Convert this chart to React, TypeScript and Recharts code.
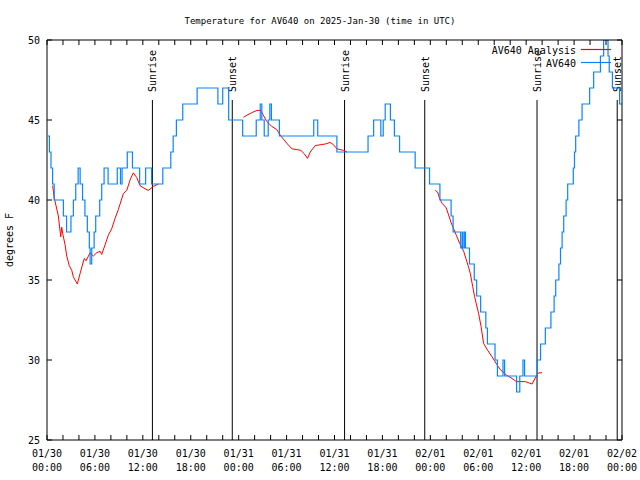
import { LineChart, Line, XAxis, YAxis, ReferenceLine } from "recharts"

const FONT = "'DejaVu Sans Mono', monospace"

// AV640 observations: hour since 01/30 00:00 UTC, temp (deg F), drawn as steps
const obsHours = [
  0.1, 0.3, 0.5, 0.7, 0.9, 2.05, 2.45, 3.0, 3.3, 3.6,
  3.9, 4.15, 4.45, 4.75, 5.05, 5.3, 5.4, 5.6, 5.9, 6.1,
  6.6, 6.85, 7.15, 7.65, 8.8, 9.2, 9.4, 10.05, 10.7, 11.6,
  12.35, 13.1, 14.5, 15.5, 15.8, 16.2, 17.0, 18.8, 21.4, 22.0,
  22.75, 24.5, 26.2, 26.7, 26.9, 27.2, 27.7, 27.9, 28.1, 29.1,
  33.4, 33.9, 36.3, 40.2, 40.9, 41.8, 42.1, 42.35, 43.0, 43.5,
  44.15, 46.1, 47.9, 49.2, 50.6, 50.85, 51.8, 52.0, 52.1, 52.3,
  52.4, 52.9, 53.5, 53.8, 54.3, 54.95, 55.15, 56.1, 56.4, 57.1,
  57.3, 58.8, 59.2, 59.6, 59.8, 61.4, 61.8, 62.4, 63.1, 63.5,
  63.7, 64.1, 64.3, 64.5, 64.7, 65.0, 65.2, 65.9, 66.05, 66.2,
  66.6, 67.0, 67.95, 68.45, 69.3, 69.7, 70.25, 70.4, 70.8, 71.7,
  72.0,
]
const obsTemps = [
  44, 43, 42, 41, 40, 39, 38, 39, 40, 41,
  42, 41, 40, 39, 38, 37, 36, 37, 38, 39,
  40, 41, 42, 41, 42, 41, 42, 43, 42, 41,
  42, 41, 42, 43, 44, 45, 46, 47, 46, 47,
  45, 44, 45, 46, 45, 44, 45, 46, 45, 44,
  45, 44, 43, 44, 45, 44, 45, 46, 45, 44,
  43, 42, 41, 40, 39, 38, 37, 38, 37, 38,
  37, 36, 35, 34, 33, 32, 31, 30, 29, 30,
  29, 28, 29, 30, 29, 30, 31, 32, 33, 34,
  35, 36, 37, 38, 39, 40, 41, 42, 43, 44,
  45, 46, 47, 48, 49, 50, 49, 48, 47, 46,
  46,
]

// AV640 Analysis, three separate stretches [hour, temp]
const anaDay1 = [
  [0.71, 40.9], [0.88, 40.2], [1.42, 39.0], [1.72, 37.7], [1.84, 38.3], [1.97, 37.9],
  [2.26, 37.2], [2.47, 36.5], [2.79, 35.9], [3.1, 35.6], [3.3, 35.2], [3.8, 34.75],
  [4.14, 35.4], [4.47, 36.0], [4.67, 36.35], [4.89, 36.2], [5.39, 36.7], [5.8, 36.5],
  [6.23, 36.7], [6.64, 36.8], [6.85, 36.6], [7.27, 37.2], [7.68, 37.8], [8.1, 38.2],
  [8.52, 38.85], [8.93, 39.4], [9.56, 40.4], [9.99, 40.6], [10.4, 41.25], [10.81, 41.7],
  [11.24, 41.4], [11.65, 40.9], [12.28, 40.7], [12.69, 40.6], [13.32, 40.85], [13.95, 41.0],
]
const anaDay2 = [
  [24.6, 45.17], [25.03, 45.3], [25.65, 45.46], [26.28, 45.6], [26.78, 45.6], [27.03, 45.35],
  [27.53, 44.9], [28.16, 44.6], [28.78, 44.4], [29.2, 44.06], [29.61, 43.8], [30.11, 43.5],
  [30.66, 43.2], [31.29, 43.15], [31.79, 43.1], [32.2, 42.9], [32.62, 42.6], [32.96, 43.0],
  [33.58, 43.4], [34.21, 43.45], [34.84, 43.5], [35.46, 43.6], [35.88, 43.45], [36.3, 43.2],
  [37.13, 43.1], [37.56, 43.0],
]
const anaDay3 = [
  [48.62, 40.6], [48.91, 40.5], [49.16, 40.1], [49.46, 39.8], [50.0, 39.5], [50.29, 39.06],
  [50.59, 38.6], [50.92, 38.2], [51.25, 37.8], [51.67, 37.3], [52.17, 36.8], [52.51, 36.25],
  [52.79, 35.8], [53.01, 35.4], [53.3, 34.6], [53.55, 33.95], [53.76, 33.5], [54.05, 32.9],
  [54.35, 32.1], [54.67, 31.04], [55.18, 30.6], [55.73, 30.2], [56.35, 29.7], [56.77, 29.4],
  [57.52, 29.06], [58.23, 28.85], [58.77, 28.65], [59.9, 28.65], [60.74, 28.5], [61.28, 29.0],
  [61.57, 29.2], [61.99, 29.2],
]

const sunHours = [13.2, 23.2, 37.26, 47.3, 61.36, 71.4]
const sunLabels = ["Sunrise", "Sunset", "Sunrise", "Sunset", "Sunrise", "Sunset"]

const xLabelHours = [0, 6, 12, 18, 24, 30, 36, 42, 48, 54, 60, 66, 72]
const xDateLabels = ["01/30", "01/30", "01/30", "01/30", "01/31", "01/31", "01/31", "01/31", "02/01", "02/01", "02/01", "02/01", "02/02"]
const xTimeLabels = ["00:00", "06:00", "12:00", "18:00", "00:00", "06:00", "12:00", "18:00", "00:00", "06:00", "12:00", "18:00", "00:00"]
const xTickHours = Array.from({ length: 37 }, (_, i) => i * 2)
const yTicks = [25, 30, 35, 40, 45, 50]

const seriesNames = ["AV640 Analysis", "AV640"]
const seriesColors = ["#ff0000", "#0a84ff"]

const obsData = obsHours.map((h, i) => ({ h, v: obsTemps[i] }))
const toPts = (seg: number[][]) => seg.map(([h, v]) => ({ h, v }))
const anaData = [
  ...toPts(anaDay1),
  { h: 19, v: null },
  ...toPts(anaDay2),
  { h: 43, v: null },
  ...toPts(anaDay3),
]

function BottomTick(props: any) {
  const { x, y, payload } = props
  const i = xLabelHours.indexOf(payload.value)
  return (
    <g>
      <line x1={x} x2={x} y1={y} y2={y - 5} stroke="#000" />
      {i >= 0 && (
        <text x={x} y={y} textAnchor="middle" fontFamily={FONT} fontSize={10} fill="#000">
          <tspan x={x} dy={17}>{xDateLabels[i]}</tspan>
          <tspan x={x} dy={14}>{xTimeLabels[i]}</tspan>
        </text>
      )}
    </g>
  )
}

function TopTick(props: any) {
  const { x, y } = props
  return <line x1={x} x2={x} y1={y} y2={y + 5} stroke="#000" />
}

function LeftTick(props: any) {
  const { x, y, payload } = props
  return (
    <g>
      <line x1={x} x2={x + 5} y1={y} y2={y} stroke="#000" />
      <text x={x - 7} y={y + 4} textAnchor="end" fontFamily={FONT} fontSize={10} fill="#000">
        {payload.value}
      </text>
    </g>
  )
}

function RightTick(props: any) {
  const { x, y } = props
  return <line x1={x} x2={x - 5} y1={y} y2={y} stroke="#000" />
}

function SunLabel(text: string) {
  return (props: any) => {
    const vb = props.viewBox
    const tx = vb.x + 4
    const ty = vb.y - 8
    return (
      <text
        x={tx}
        y={ty}
        transform={`rotate(-90 ${tx} ${ty})`}
        fontFamily={FONT}
        fontSize={10}
        fill="#000"
      >
        {text}
      </text>
    )
  }
}

function YLabel(props: any) {
  const vb = props.viewBox
  const cx = 13
  const cy = vb.y + vb.height / 2
  return (
    <text x={cx} y={cy} transform={`rotate(-90 ${cx} ${cy})`} textAnchor="middle" fontFamily={FONT} fontSize={10} fill="#000">
      degrees F
    </text>
  )
}

function KeyBox() {
  return (
    <svg width={150} height={30} style={{ position: "absolute", left: 470, top: 42, overflow: "visible" }}>
      {seriesNames.map((name, i) => (
        <g key={name}>
          <text x={106} y={12 + i * 13} textAnchor="end" fontFamily={FONT} fontSize={10} fill="#000">
            {name}
          </text>
          <path
            d={`M111 ${7.5 + i * 13}H141`}
            fill="none"
            style={{ stroke: seriesColors[i], strokeWidth: 1.2 }}
          />
        </g>
      ))}
    </svg>
  )
}

export default function App() {
  return (
    <div style={{ position: "absolute", left: 0, top: 0, width: 640, height: 480, background: "#fff" }}>
      <div
        style={{
          position: "absolute",
          left: 0,
          top: 15,
          width: 640,
          textAlign: "center",
          fontFamily: FONT,
          fontSize: 9,
          lineHeight: "12px",
          color: "#000",
        }}
      >
        Temperature for AV640 on 2025-Jan-30 (time in UTC)
      </div>
      <LineChart width={640} height={480} margin={{ top: 39, right: 0, bottom: 0, left: 0 }}>
        <XAxis
          dataKey="h"
          type="number"
          domain={[0, 72]}
          ticks={xTickHours}
          interval={0}
          height={40}
          tickSize={0}
          tickMargin={0}
          tickLine={false}
          tick={<BottomTick />}
          axisLine={{ stroke: "#000" }}
          allowDataOverflow
        />
        <XAxis
          xAxisId="top"
          orientation="top"
          dataKey="h"
          type="number"
          domain={[0, 72]}
          ticks={xTickHours}
          interval={0}
          height={1}
          tickSize={0}
          tickMargin={0}
          tickLine={false}
          tick={<TopTick />}
          axisLine={{ stroke: "#000" }}
          allowDataOverflow
        />
        <YAxis
          type="number"
          domain={[25, 50]}
          ticks={yTicks}
          interval={0}
          width={47}
          tickSize={0}
          tickMargin={0}
          tickLine={false}
          tick={<LeftTick />}
          axisLine={{ stroke: "#000" }}
          label={<YLabel />}
          allowDataOverflow
        />
        <YAxis
          yAxisId="right"
          orientation="right"
          type="number"
          domain={[25, 50]}
          ticks={yTicks}
          interval={0}
          width={18}
          tickSize={0}
          tickMargin={0}
          tickLine={false}
          tick={<RightTick />}
          axisLine={{ stroke: "#000" }}
          allowDataOverflow
        />
        {sunHours.map((h, i) => (
          <ReferenceLine
            key={i}
            segment={[{ x: h, y: 25 }, { x: h, y: 46.25 }]}
            stroke="#000"
            strokeWidth={1}
            label={SunLabel(sunLabels[i])}
          />
        ))}
        <Line
          data={anaData}
          dataKey="v"
          name={seriesNames[0]}
          type="linear"
          stroke={seriesColors[0]}
          strokeWidth={1}
          dot={false}
          activeDot={false}
          isAnimationActive={false}
        />
        <Line
          data={obsData}
          dataKey="v"
          name={seriesNames[1]}
          type="stepAfter"
          stroke={seriesColors[1]}
          strokeWidth={1.2}
          dot={false}
          activeDot={false}
          isAnimationActive={false}
        />
      </LineChart>
      <KeyBox />
    </div>
  )
}
